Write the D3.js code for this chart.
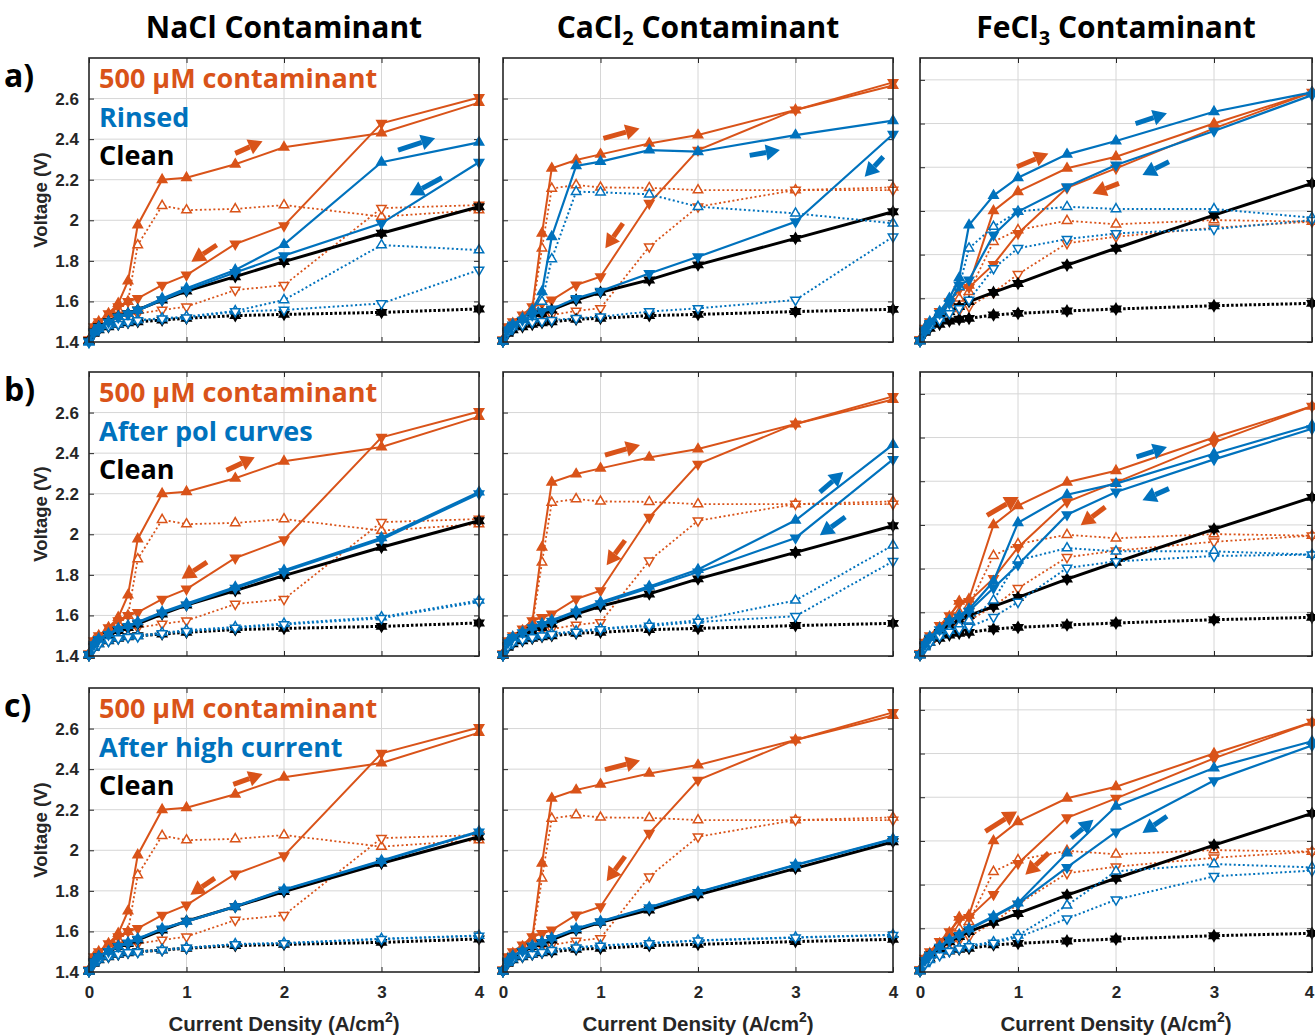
<!DOCTYPE html>
<html>
<head>
<meta charset="utf-8">
<script src="https://cdn.jsdelivr.net/npm/d3@7"></script>
<style>
  body { margin: 0; background: #fff; }
  text { font-family: "Liberation Sans", Arial, sans-serif; }
  .big { font-family: "Open Sans", Lato, sans-serif; font-weight: 700; }
</style>
</head>
<body>
<svg id="fig" width="1315" height="1036"></svg>
<script>
// ---- Polarization data: current density (A/cm^2) and cell voltage (V) ----
const currentDensity = [0, 0.05, 0.1, 0.2, 0.3, 0.4, 0.5, 0.75, 1, 1.5, 2, 3, 4];

const saltTitles = ["NaCl", "CaCl", "FeCl"];
const saltSubscripts = ["", "2", "3"];
const recoveryLabels = ["Rinsed", "After pol curves", "After high current"];
const panelLetters = ["a)", "b)", "c)"];
const yTickValues = [1.4, 1.6, 1.8, 2, 2.2, 2.4, 2.6];
const xTickValues = [0, 1, 2, 3, 4];

// NaCl: contaminated cell (forward / reverse sweep, cell voltage and iR-free voltage)
const naclContamFwd   = [1.41, 1.475, 1.50, 1.54, 1.59, 1.70, 1.977, 2.20, 2.21, 2.276, 2.36, 2.43, 2.58];
const naclContamRev   = [1.41, 1.475, 1.50, 1.54, 1.574, 1.60, 1.615, 1.68, 1.73, 1.883, 1.973, 2.478, 2.605];
const naclContamFwdIR = [1.41, 1.47, 1.49, 1.53, 1.56, 1.60, 1.878, 2.072, 2.05, 2.056, 2.075, 2.018, 2.05];
const naclContamRevIR = [1.41, 1.46, 1.475, 1.50, 1.52, 1.533, 1.54, 1.558, 1.574, 1.656, 1.68, 2.06, 2.075];
const naclCleanV      = [1.405, 1.45, 1.475, 1.50, 1.525, 1.54, 1.558, 1.607, 1.651, 1.722, 1.796, 1.936, 2.067];
const naclCleanIR     = [1.405, 1.443, 1.46, 1.475, 1.487, 1.495, 1.50, 1.508, 1.517, 1.53, 1.536, 1.546, 1.563];
// NaCl: recovered cell
const naclRinsedFwd   = [1.40, 1.45, 1.475, 1.50, 1.525, 1.54, 1.558, 1.615, 1.665, 1.755, 1.88, 2.286, 2.384];
const naclRinsedRev   = [1.40, 1.448, 1.472, 1.498, 1.522, 1.538, 1.556, 1.607, 1.656, 1.743, 1.826, 1.985, 2.286];
const naclRinsedFwdIR = [1.40, 1.448, 1.464, 1.48, 1.49, 1.50, 1.508, 1.517, 1.525, 1.553, 1.607, 1.878, 1.853];
const naclRinsedRevIR = [1.40, 1.446, 1.462, 1.478, 1.488, 1.498, 1.506, 1.515, 1.52, 1.55, 1.558, 1.59, 1.755];
const naclPolFwd      = [1.407, 1.46, 1.485, 1.51, 1.535, 1.55, 1.568, 1.617, 1.658, 1.74, 1.822, 1.983, 2.208];
const naclPolRev      = [1.405, 1.456, 1.481, 1.506, 1.531, 1.546, 1.564, 1.612, 1.652, 1.734, 1.815, 1.975, 2.20];
const naclPolFwdIR    = [1.407, 1.444, 1.46, 1.477, 1.49, 1.497, 1.50, 1.515, 1.527, 1.543, 1.56, 1.592, 1.674];
const naclPolRevIR    = [1.405, 1.440, 1.456, 1.473, 1.486, 1.493, 1.496, 1.511, 1.522, 1.538, 1.555, 1.586, 1.667];
const naclHighFwd     = [1.405, 1.452, 1.478, 1.503, 1.528, 1.545, 1.564, 1.614, 1.65, 1.724, 1.806, 1.949, 2.093];
const naclHighRev     = [1.405, 1.45, 1.476, 1.501, 1.526, 1.543, 1.562, 1.612, 1.648, 1.722, 1.804, 1.946, 2.09];
const naclHighFwdIR   = [1.405, 1.445, 1.462, 1.478, 1.49, 1.498, 1.50, 1.51, 1.52, 1.538, 1.543, 1.564, 1.58];
const naclHighRevIR   = [1.405, 1.443, 1.46, 1.476, 1.488, 1.496, 1.498, 1.508, 1.518, 1.536, 1.541, 1.562, 1.578];

// CaCl2: contaminated cell and clean baseline
const cacl2ContamFwd   = [1.41, 1.467, 1.492, 1.525, 1.566, 1.936, 2.256, 2.297, 2.325, 2.379, 2.42, 2.544, 2.664];
const cacl2ContamRev   = [1.41, 1.475, 1.50, 1.533, 1.574, 1.59, 1.607, 1.681, 1.722, 2.084, 2.346, 2.544, 2.68];
const cacl2ContamFwdIR = [1.41, 1.46, 1.48, 1.508, 1.55, 1.862, 2.157, 2.174, 2.162, 2.16, 2.149, 2.149, 2.162];
const cacl2ContamRevIR = [1.41, 1.454, 1.475, 1.50, 1.517, 1.525, 1.533, 1.553, 1.566, 1.87, 2.067, 2.149, 2.149];
const cacl2CleanV      = [1.405, 1.45, 1.475, 1.50, 1.525, 1.54, 1.558, 1.607, 1.645, 1.706, 1.78, 1.911, 2.042];
const cacl2CleanIR     = [1.405, 1.443, 1.46, 1.475, 1.487, 1.495, 1.50, 1.512, 1.517, 1.53, 1.536, 1.55, 1.561];
// CaCl2: recovered cell
const cacl2RinsedFwd   = [1.405, 1.464, 1.487, 1.517, 1.558, 1.648, 1.919, 2.268, 2.289, 2.346, 2.338, 2.42, 2.491];
const cacl2RinsedRev   = [1.405, 1.46, 1.484, 1.508, 1.533, 1.55, 1.563, 1.615, 1.651, 1.738, 1.82, 1.993, 2.424];
const cacl2RinsedFwdIR = [1.405, 1.45, 1.475, 1.50, 1.525, 1.60, 1.809, 2.141, 2.138, 2.128, 2.067, 2.034, 1.985];
const cacl2RinsedRevIR = [1.405, 1.448, 1.467, 1.484, 1.497, 1.503, 1.508, 1.517, 1.525, 1.55, 1.566, 1.607, 1.919];
const cacl2PolFwd      = [1.407, 1.469, 1.494, 1.518, 1.543, 1.559, 1.576, 1.622, 1.666, 1.743, 1.826, 2.069, 2.442];
const cacl2PolRev      = [1.405, 1.466, 1.491, 1.515, 1.54, 1.556, 1.571, 1.617, 1.658, 1.735, 1.814, 1.982, 2.369];
const cacl2PolFwdIR    = [1.407, 1.45, 1.468, 1.483, 1.495, 1.502, 1.51, 1.522, 1.535, 1.554, 1.576, 1.674, 1.946];
const cacl2PolRevIR    = [1.405, 1.447, 1.465, 1.48, 1.492, 1.5, 1.507, 1.518, 1.531, 1.548, 1.568, 1.596, 1.867];
const cacl2HighFwd     = [1.405, 1.455, 1.48, 1.505, 1.53, 1.548, 1.568, 1.614, 1.65, 1.719, 1.794, 1.929, 2.057];
const cacl2HighRev     = [1.405, 1.453, 1.478, 1.503, 1.528, 1.546, 1.566, 1.612, 1.648, 1.717, 1.792, 1.926, 2.054];
const cacl2HighFwdIR   = [1.405, 1.447, 1.464, 1.479, 1.49, 1.5, 1.51, 1.522, 1.531, 1.543, 1.556, 1.571, 1.584];
const cacl2HighRevIR   = [1.405, 1.445, 1.462, 1.477, 1.488, 1.498, 1.508, 1.52, 1.529, 1.541, 1.554, 1.569, 1.582];

// FeCl3: contaminated cell and clean baseline
const fecl3ContamFwd   = [1.41, 1.463, 1.485, 1.53, 1.58, 1.65, 1.66, 2.0, 2.088, 2.195, 2.248, 2.40, 2.543];
const fecl3ContamRev   = [1.41, 1.463, 1.493, 1.54, 1.585, 1.64, 1.65, 1.755, 1.897, 2.106, 2.195, 2.378, 2.543];
const fecl3ContamFwdIR = [1.41, 1.45, 1.475, 1.508, 1.554, 1.60, 1.63, 1.859, 1.913, 1.955, 1.939, 1.958, 1.951];
const fecl3ContamRevIR = [1.41, 1.447, 1.47, 1.50, 1.531, 1.546, 1.562, 1.627, 1.71, 1.852, 1.882, 1.923, 1.951];
const fecl3CleanV      = [1.405, 1.45, 1.478, 1.508, 1.539, 1.562, 1.585, 1.627, 1.668, 1.752, 1.829, 1.981, 2.126];
const fecl3CleanIR     = [1.405, 1.444, 1.463, 1.481, 1.496, 1.504, 1.508, 1.524, 1.531, 1.542, 1.551, 1.566, 1.577];
// FeCl3: recovered cell
const fecl3RinsedFwd   = [1.405, 1.463, 1.493, 1.539, 1.60, 1.694, 1.935, 2.07, 2.152, 2.259, 2.32, 2.454, 2.543];
const fecl3RinsedRev   = [1.405, 1.455, 1.485, 1.531, 1.577, 1.66, 1.684, 1.89, 1.997, 2.111, 2.21, 2.366, 2.53];
const fecl3RinsedFwdIR = [1.405, 1.45, 1.475, 1.508, 1.554, 1.653, 1.829, 1.928, 1.997, 2.019, 2.009, 2.009, 1.969];
const fecl3RinsedRevIR = [1.405, 1.447, 1.47, 1.50, 1.531, 1.554, 1.592, 1.737, 1.829, 1.871, 1.897, 1.917, 1.958];
const fecl3PolFwd      = [1.406, 1.456, 1.487, 1.525, 1.563, 1.586, 1.614, 1.742, 2.01, 2.138, 2.189, 2.326, 2.456];
const fecl3PolRev      = [1.406, 1.452, 1.483, 1.52, 1.558, 1.578, 1.605, 1.711, 1.818, 2.047, 2.151, 2.30, 2.44];
const fecl3PolFwdIR    = [1.406, 1.441, 1.464, 1.495, 1.517, 1.54, 1.563, 1.655, 1.838, 1.894, 1.879, 1.879, 1.864];
const fecl3PolRevIR    = [1.406, 1.438, 1.46, 1.49, 1.51, 1.522, 1.533, 1.578, 1.647, 1.803, 1.833, 1.858, 1.864];
const fecl3HighFwd     = [1.406, 1.456, 1.479, 1.517, 1.548, 1.571, 1.598, 1.655, 1.716, 1.945, 2.158, 2.334, 2.456];
const fecl3HighRev     = [1.406, 1.453, 1.476, 1.514, 1.545, 1.567, 1.594, 1.652, 1.712, 1.879, 2.041, 2.276, 2.437];
const fecl3HighFwdIR   = [1.406, 1.437, 1.456, 1.479, 1.498, 1.51, 1.522, 1.537, 1.568, 1.705, 1.861, 1.894, 1.879];
const fecl3HighRevIR   = [1.406, 1.435, 1.453, 1.476, 1.495, 1.507, 1.517, 1.533, 1.559, 1.644, 1.731, 1.838, 1.864];

// Sweep-direction arrows [x1, V1, x2, V2, series] per panel (row-major)
const sweepArrows = [
  [[1.50, 2.33, 1.78, 2.39, "c"], [1.31, 1.878, 1.05, 1.796, "c"], [3.17, 2.346, 3.55, 2.405, "r"], [3.62, 2.21, 3.29, 2.124, "r"]],
  [[1.03, 2.404, 1.40, 2.453, "c"], [1.23, 1.985, 1.05, 1.862, "c"], [2.53, 2.32, 2.84, 2.346, "r"], [3.90, 2.313, 3.71, 2.215, "r"]],
  [[0.99, 2.202, 1.31, 2.263, "c"], [2.03, 2.126, 1.76, 2.08, "c"], [2.20, 2.40, 2.52, 2.447, "r"], [2.54, 2.225, 2.27, 2.164, "r"]],
  [[1.41, 2.315, 1.70, 2.38, "c"], [1.21, 1.863, 0.95, 1.781, "c"]],
  [[1.046, 2.39, 1.405, 2.44, "c"], [1.251, 1.97, 1.063, 1.847, "c"], [3.25, 2.208, 3.49, 2.307, "r"], [3.51, 2.085, 3.25, 1.995, "r"]],
  [[0.684, 2.044, 1.007, 2.128, "c"], [1.89, 2.082, 1.64, 1.998, "c"], [2.21, 2.311, 2.52, 2.357, "r"], [2.54, 2.166, 2.27, 2.113, "r"]],
  [[1.48, 2.325, 1.78, 2.376, "c"], [1.29, 1.863, 1.04, 1.781, "c"]],
  [[1.046, 2.397, 1.405, 2.442, "c"], [1.251, 1.97, 1.063, 1.847, "c"]],
  [[0.667, 2.044, 0.99, 2.135, "c"], [1.313, 1.945, 1.075, 1.845, "c"], [1.544, 2.013, 1.77, 2.097, "r"], [2.52, 2.113, 2.27, 2.036, "r"]]
];

// ---- assemble per-column tables ----
const columns = [
  { contam: [naclContamFwd, naclContamRev, naclContamFwdIR, naclContamRevIR],
    clean: [naclCleanV, naclCleanIR],
    recovery: [[naclRinsedFwd, naclRinsedRev, naclRinsedFwdIR, naclRinsedRevIR],
               [naclPolFwd, naclPolRev, naclPolFwdIR, naclPolRevIR],
               [naclHighFwd, naclHighRev, naclHighFwdIR, naclHighRevIR]] },
  { contam: [cacl2ContamFwd, cacl2ContamRev, cacl2ContamFwdIR, cacl2ContamRevIR],
    clean: [cacl2CleanV, cacl2CleanIR],
    recovery: [[cacl2RinsedFwd, cacl2RinsedRev, cacl2RinsedFwdIR, cacl2RinsedRevIR],
               [cacl2PolFwd, cacl2PolRev, cacl2PolFwdIR, cacl2PolRevIR],
               [cacl2HighFwd, cacl2HighRev, cacl2HighFwdIR, cacl2HighRevIR]] },
  { contam: [fecl3ContamFwd, fecl3ContamRev, fecl3ContamFwdIR, fecl3ContamRevIR],
    clean: [fecl3CleanV, fecl3CleanIR],
    recovery: [[fecl3RinsedFwd, fecl3RinsedRev, fecl3RinsedFwdIR, fecl3RinsedRevIR],
               [fecl3PolFwd, fecl3PolRev, fecl3PolFwdIR, fecl3PolRevIR],
               [fecl3HighFwd, fecl3HighRev, fecl3HighFwdIR, fecl3HighRevIR]] }
];

// ---- layout ----
const ORANGE = "#D95319", BLUE = "#0072BD", BLACK = "#000000", TEXT = "#262626";
const colLeft = [89, 503, 920], colRight = [479, 893, 1312];
const rowTop = [58, 372, 688], rowBottom = [342, 656, 972];
const colVmax = [2.8, 2.8, 2.7];

const svg = d3.select("#fig");

// marker shapes (centroid-centred triangles)
const TRI_UP = "M0,-5.4L4.7,2.7L-4.7,2.7Z";
const TRI_DN = "M0,5.4L4.7,-2.7L-4.7,-2.7Z";

function drawSeries(g, x, y, vals, color, opts) {
  const pts = currentDensity.map((c, i) => [c, vals[i]]);
  const line = d3.line().x(d => x(d[0])).y(d => y(d[1]));
  g.append("path").datum(pts)
    .attr("d", line)
    .attr("fill", "none")
    .attr("stroke", color)
    .attr("stroke-width", opts.width)
    .attr("stroke-dasharray", opts.dotted ? (opts.width > 2.5 ? "2.5,2" : "2,2.5") : null);
  opts.shapes.forEach(shape => {
    g.append("g").selectAll("path").data(pts).join("path")
      .attr("transform", d => `translate(${x(d[0])},${y(d[1])})`)
      .attr("d", shape)
      .attr("fill", opts.filled ? color : "#fff")
      .attr("stroke", color)
      .attr("stroke-width", 1.5);
  });
}

function drawArrow(g, x, y, a, color) {
  const x1 = x(a[0]), y1 = y(a[1]), x2 = x(a[2]), y2 = y(a[3]);
  const ang = Math.atan2(y2 - y1, x2 - x1);
  const L = 14, W = 8;
  const bx = x2 - L * Math.cos(ang), by = y2 - L * Math.sin(ang);
  g.append("line").attr("x1", x1).attr("y1", y1).attr("x2", bx).attr("y2", by)
    .attr("stroke", color).attr("stroke-width", 5);
  const px = -Math.sin(ang), py = Math.cos(ang);
  g.append("path")
    .attr("d", `M${x2},${y2}L${bx + W * px},${by + W * py}L${bx - W * px},${by - W * py}Z`)
    .attr("fill", color);
}

for (let r = 0; r < 3; r++) {
  for (let c = 0; c < 3; c++) {
    const x = d3.scaleLinear().domain([0, 4]).range([colLeft[c], colRight[c]]);
    const y = d3.scaleLinear().domain([1.4, colVmax[c]]).range([rowBottom[r], rowTop[r]]);
    const g = svg.append("g");
    const W = colRight[c] - colLeft[c], H = rowBottom[r] - rowTop[r];
    const yTicks = yTickValues.filter(v => v <= colVmax[c]);

    // grid
    g.append("g").selectAll("line").data(xTickValues.slice(1, -1)).join("line")
      .attr("x1", d => x(d)).attr("x2", d => x(d)).attr("y1", rowTop[r]).attr("y2", rowBottom[r])
      .attr("stroke", "#d6d6d6").attr("stroke-width", 1);
    g.append("g").selectAll("line").data(yTicks.slice(1)).join("line")
      .attr("y1", d => y(d)).attr("y2", d => y(d)).attr("x1", colLeft[c]).attr("x2", colRight[c])
      .attr("stroke", "#d6d6d6").attr("stroke-width", 1);

    // axes with inward ticks on all four sides
    const fmt = v => (Number.isInteger(v) ? String(v) : v.toFixed(1));
    const left = g.append("g").attr("transform", `translate(${colLeft[c]},0)`)
      .call(d3.axisLeft(y).tickValues(yTicks).tickSizeInner(-5).tickSizeOuter(0).tickPadding(10)
        .tickFormat(c === 0 ? fmt : ""));
    const rightAx = g.append("g").attr("transform", `translate(${colRight[c]},0)`)
      .call(d3.axisRight(y).tickValues(yTicks).tickSizeInner(-5).tickSizeOuter(0).tickFormat(""));
    const bottom = g.append("g").attr("transform", `translate(0,${rowBottom[r]})`)
      .call(d3.axisBottom(x).tickValues(xTickValues).tickSizeInner(-5).tickSizeOuter(0).tickPadding(14)
        .tickFormat(r === 2 ? d3.format("d") : ""));
    const top = g.append("g").attr("transform", `translate(0,${rowTop[r]})`)
      .call(d3.axisTop(x).tickValues(xTickValues).tickSizeInner(-5).tickSizeOuter(0).tickFormat(""));
    [left, rightAx, bottom, top].forEach(a => {
      a.select(".domain").remove();
      a.selectAll(".tick line").attr("stroke", TEXT).attr("stroke-width", 1);
      a.selectAll(".tick text").attr("fill", TEXT).attr("font-size", 17).attr("font-weight", 700)
        .attr("font-family", "'Liberation Sans', Arial, sans-serif");
    });
    // keep the last tick label of the right-most column inside the page
    if (c === 2) bottom.selectAll(".tick text").filter(d => d === 4).attr("dx", -3);

    const col = columns[c];
    const rec = col.recovery[r];
    // contaminated (orange)
    drawSeries(g, x, y, col.contam[2], ORANGE, { width: 1.8, dotted: true, filled: false, shapes: [TRI_UP] });
    drawSeries(g, x, y, col.contam[3], ORANGE, { width: 1.8, dotted: true, filled: false, shapes: [TRI_DN] });
    drawSeries(g, x, y, col.contam[0], ORANGE, { width: 2, dotted: false, filled: true, shapes: [TRI_UP] });
    drawSeries(g, x, y, col.contam[1], ORANGE, { width: 2, dotted: false, filled: true, shapes: [TRI_DN] });
    // clean baseline (black)
    drawSeries(g, x, y, col.clean[1], BLACK, { width: 3, dotted: true, filled: true, shapes: [TRI_UP, TRI_DN] });
    drawSeries(g, x, y, col.clean[0], BLACK, { width: 3, dotted: false, filled: true, shapes: [TRI_UP, TRI_DN] });
    // recovered (blue)
    drawSeries(g, x, y, rec[2], BLUE, { width: 2, dotted: true, filled: false, shapes: [TRI_UP] });
    drawSeries(g, x, y, rec[3], BLUE, { width: 2, dotted: true, filled: false, shapes: [TRI_DN] });
    drawSeries(g, x, y, rec[0], BLUE, { width: 2.2, dotted: false, filled: true, shapes: [TRI_UP] });
    drawSeries(g, x, y, rec[1], BLUE, { width: 2.2, dotted: false, filled: true, shapes: [TRI_DN] });

    // sweep arrows
    sweepArrows[r * 3 + c].forEach(a => drawArrow(g, x, y, a, a[4] === "c" ? ORANGE : BLUE));

    // frame
    g.append("rect").attr("x", colLeft[c]).attr("y", rowTop[r]).attr("width", W).attr("height", H)
      .attr("fill", "none").attr("stroke", TEXT).attr("stroke-width", 1.6);

    // in-panel legend text (first column)
    if (c === 0) {
      const lx = colLeft[c] + 10;
      const items = [["500 μM contaminant", ORANGE], [recoveryLabels[r], BLUE], ["Clean", BLACK]];
      items.forEach((it, k) => {
        g.append("text").attr("class", "big").attr("x", lx).attr("y", rowTop[r] + 30 + k * 38.7)
          .attr("font-size", 27).attr("fill", it[1]).text(it[0]);
      });
      // y-axis label
      svg.append("text")
        .attr("transform", `translate(47,${(rowTop[r] + rowBottom[r]) / 2}) rotate(-90)`)
        .attr("text-anchor", "middle").attr("font-size", 18.5).attr("font-weight", 700).attr("fill", TEXT)
        .text("Voltage (V)");
      // panel letter
      svg.append("text").attr("class", "big").attr("x", 4).attr("y", rowTop[r] + 29)
        .attr("font-size", 32).attr("fill", BLACK).text(panelLetters[r]);
    }

    // column titles
    if (r === 0) {
      const t = svg.append("text").attr("class", "big")
        .attr("x", (colLeft[c] + colRight[c]) / 2).attr("y", 38)
        .attr("text-anchor", "middle").attr("font-size", 30).attr("fill", BLACK);
      t.append("tspan").text(saltTitles[c]);
      if (saltSubscripts[c]) t.append("tspan").attr("dy", 7).attr("font-size", 20).text(saltSubscripts[c]);
      t.append("tspan").attr("dy", saltSubscripts[c] ? -7 : 0).text(" Contaminant");
    }

    // x-axis label (bottom row)
    if (r === 2) {
      const t = svg.append("text").attr("x", (colLeft[c] + colRight[c]) / 2).attr("y", 1031)
        .attr("text-anchor", "middle").attr("font-size", 20.5).attr("font-weight", 700).attr("fill", TEXT);
      t.append("tspan").text("Current Density (A/cm");
      t.append("tspan").attr("dy", -9).attr("font-size", 14).text("2");
      t.append("tspan").attr("dy", 9).text(")");
    }
  }
}
</script>
</body>
</html>
